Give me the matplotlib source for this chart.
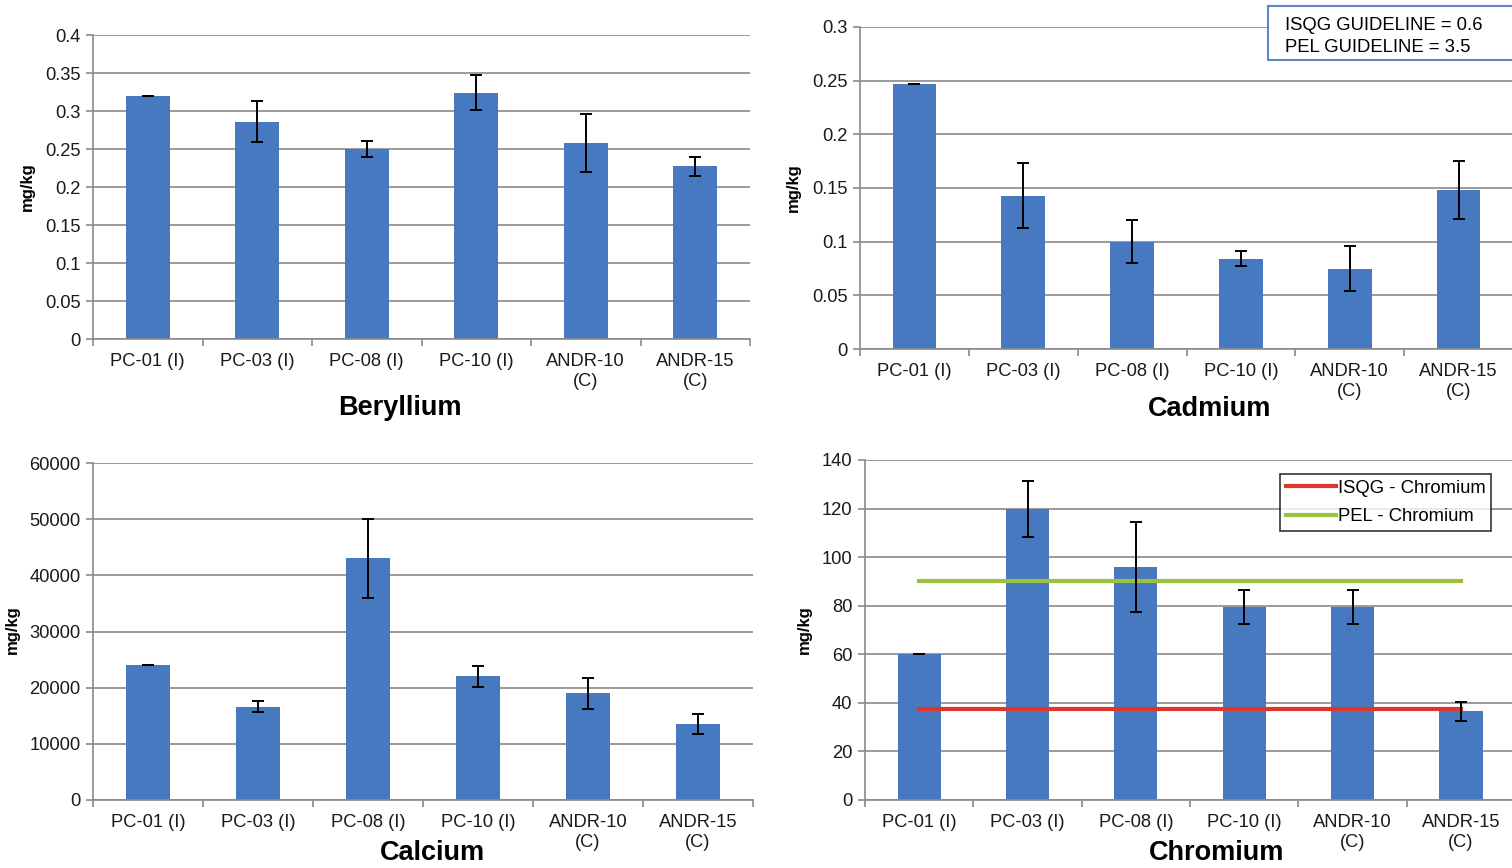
import matplotlib
matplotlib.use("Agg")
import matplotlib.pyplot as plt
import numpy as np
from matplotlib.patches import Rectangle
from matplotlib.ticker import FuncFormatter, MultipleLocator, FixedLocator

plt.rcParams['font.family'] = ['Liberation Sans', 'DejaVu Sans']

# Sampling sites
sites = ['PC-01 (I)', 'PC-03 (I)', 'PC-08 (I)', 'PC-10 (I)', 'ANDR-10\n(C)', 'ANDR-15\n(C)']

# Mean concentrations (mg/kg) and error bar half-widths
be_mean = [0.320, 0.286, 0.250, 0.324, 0.258, 0.227]
be_err = [0.0, 0.027, 0.010, 0.023, 0.038, 0.012]

cd_mean = [0.247, 0.143, 0.100, 0.084, 0.075, 0.148]
cd_err = [0.0, 0.030, 0.020, 0.007, 0.021, 0.027]

ca_mean = [24000, 16600, 43000, 22000, 19000, 13500]
ca_err = [0, 1000, 7000, 1800, 2800, 1800]

cr_mean = [60.3, 120.0, 96.0, 79.5, 79.5, 36.5]
cr_err = [0.0, 11.5, 18.5, 7.0, 7.0, 4.0]

# Sediment quality guidelines for chromium
isqg_cr = 37.3
pel_cr = 90.0

BAR = '#4779c0'
GRID = '#8a8a8a'
W, H = 1512, 868

fig = plt.figure(figsize=(W / 100, H / 100), dpi=100)
fig.patch.set_facecolor('white')


def px_axes(left, top, right, bottom):
    return fig.add_axes([left / W, 1 - bottom / H, (right - left) / W, (bottom - top) / H])


def bar_panel(ax, means, errs, ymax, step):
    x = np.arange(len(sites))
    ax.bar(x, means, width=0.4, color=BAR, zorder=2)
    ax.errorbar(x, means, yerr=errs, fmt='none', ecolor='black', elinewidth=1.4,
                capsize=4, capthick=1.4, zorder=5)
    ax.set_xlim(-0.5, len(sites) - 0.5)
    ax.set_ylim(0, ymax)
    ax.yaxis.set_major_locator(MultipleLocator(step))
    ax.yaxis.set_major_formatter(FuncFormatter(lambda v, p: '{:g}'.format(round(v, 4))))
    ax.grid(axis='y', color=GRID, lw=1.2, zorder=0)
    ax.set_axisbelow(True)
    # category boundaries get tick marks, centres get the labels
    ax.xaxis.set_major_locator(FixedLocator(np.arange(-0.5, len(sites), 1.0)))
    ax.xaxis.set_major_formatter(FuncFormatter(lambda v, p: ''))
    ax.xaxis.set_minor_locator(FixedLocator(x))
    ax.set_xticklabels(sites, minor=True, linespacing=1.25)
    ax.tick_params(axis='x', which='major', length=5, color=GRID, width=1.2, direction='out')
    ax.tick_params(axis='x', which='minor', length=0, pad=10, labelsize=13.2, colors='#1a1a1a')
    ax.tick_params(axis='y', length=5, color=GRID, width=1.2, labelsize=13.2,
                   labelcolor='#1a1a1a', pad=4)
    for s in ('top', 'right'):
        ax.spines[s].set_visible(False)
    for s in ('left', 'bottom'):
        ax.spines[s].set_color(GRID)
        ax.spines[s].set_linewidth(1.2)


ax1 = px_axes(93, 35, 750, 339)
bar_panel(ax1, be_mean, be_err, 0.4, 0.05)

ax2 = px_axes(860, 27, 1513, 349)
bar_panel(ax2, cd_mean, cd_err, 0.3, 0.05)

ax3 = px_axes(93, 463, 753, 800)
bar_panel(ax3, ca_mean, ca_err, 60000, 10000)

ax4 = px_axes(865, 460, 1515, 800)
bar_panel(ax4, cr_mean, cr_err, 140, 20)
xs = [0, len(sites) - 1]
ax4.plot(xs, [isqg_cr, isqg_cr], color='#e0352b', lw=3, zorder=4, label='ISQG - Chromium')
ax4.plot(xs, [pel_cr, pel_cr], color='#9bc23c', lw=3, zorder=4, label='PEL - Chromium')
leg = ax4.legend(loc='upper right', bbox_to_anchor=(1491 / W, 1 - 474 / H),
                 bbox_transform=fig.transFigure, fontsize=13.3, frameon=True, fancybox=False,
                 edgecolor='black', handlelength=2.7, handletextpad=0.1,
                 labelspacing=0.62, borderpad=0.3, borderaxespad=0)
leg.get_frame().set_linewidth(1.2)

# guideline note for cadmium
fig.patches.append(Rectangle((1268 / W, 1 - 60 / H), 250 / W, 54 / H,
                             transform=fig.transFigure, facecolor='white',
                             edgecolor='#5b87c8', lw=1.5, zorder=10))
fig.text(1285 / W, 1 - 25 / H, 'ISQG GUIDELINE = 0.6', fontsize=13.3, va='center', zorder=11)
fig.text(1285 / W, 1 - 47 / H, 'PEL GUIDELINE = 3.5', fontsize=13.3, va='center', zorder=11)

# panel titles
for name, cx, cy in [('Beryllium', 400, 408), ('Cadmium', 1210, 409),
                     ('Calcium', 432, 853), ('Chromium', 1217, 853)]:
    fig.text(cx / W, 1 - cy / H, name, fontsize=19.5, fontweight='bold',
             ha='center', va='center')

# y axis labels
for cx, cy in [(27, 187), (793, 188), (12, 630), (804, 630)]:
    fig.text(cx / W, 1 - cy / H, 'mg/kg', fontsize=12, fontweight='bold',
             rotation=90, ha='center', va='center')

fig.savefig('out.png', dpi=100, facecolor='white')
